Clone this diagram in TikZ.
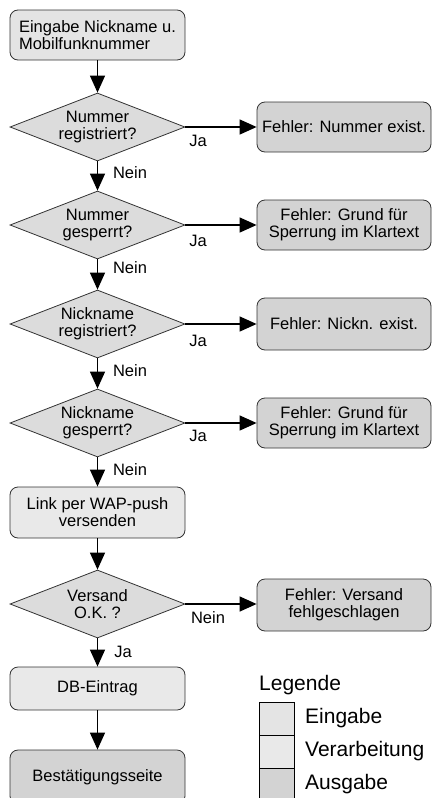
\documentclass[tikz,border=0pt]{standalone}
\usepackage{fontspec}
\setmainfont{Liberation Sans}
\usetikzlibrary{shapes.geometric,arrows.meta}

\definecolor{inputfill}{HTML}{E4E4E4}
\definecolor{procfill}{HTML}{E9E9E9}
\definecolor{outfill}{HTML}{D3D3D3}
\definecolor{decfill}{HTML}{DCDCDC}
\definecolor{edgegray}{HTML}{333333}

\newcommand\flowfont{\fontsize{16.5}{17}\selectfont}
\newcommand\legfont{\fontsize{21}{22}\selectfont}

\tikzset{
  shapebase/.style={draw=edgegray, line width=0.8pt, font=\flowfont,
    align=center, inner sep=0pt, text=black},
  leftbox/.style={shapebase, rounded corners=8pt, minimum width=175pt},
  inbox/.style={leftbox, fill=inputfill},
  procbox/.style={leftbox, fill=procfill},
  outbox/.style={shapebase, rounded corners=8pt, fill=outfill,
    minimum width=174pt, minimum height=50pt},
  decision/.style={shapebase, diamond, aspect=2.6, fill=decfill,
    minimum width=175pt, minimum height=68pt},
  flow/.style={line width=1.3pt, -{Triangle[length=17pt,width=15pt]}},
  edgelabel/.style={font=\flowfont, inner sep=0pt},
  legbox/.style={draw=black, line width=0.7pt, minimum width=35pt,
    minimum height=33pt, inner sep=0pt},
  legtext/.style={font=\legfont, anchor=west, inner sep=0pt}
}

\begin{document}
\begin{tikzpicture}[x=1pt, y=-1pt]
  \useasboundingbox (0,0) rectangle (435,798);
  \clip (0,0) rectangle (435,798);

  % main column
  \node[inbox, align=left, minimum height=50pt] (start) at (97.5,35)
    {Eingabe Nickname u.\\Mobilfunknummer};
  \node[decision] (q1) at (97.5,127) {Nummer\\registriert?};
  \node[decision] (q2) at (97.5,225) {Nummer\\gesperrt?};
  \node[decision] (q3) at (97.5,324) {Nickname\\registriert?};
  \node[decision] (q4) at (97.5,423) {Nickname\\gesperrt?};
  \node[procbox, minimum height=51pt] (send) at (97.5,512.5)
    {Link per WAP-push\\versenden};
  \node[decision] (q5) at (97.5,604) {Versand\\O.K. ?};
  \node[procbox, minimum height=43pt] (db) at (97.5,688.5) {DB-Eintrag};
  \node[shapebase, rounded corners=8pt, fill=outfill, minimum width=175pt,
    minimum height=54pt] (done) at (97.5,777) {Bestätigungsseite};

  % error outputs, each level with its decision
  \node[outbox] (e1) at (344,127) {Fehler: Nummer exist.};
  \node[outbox] (e2) at (344,225) {Fehler: Grund für\\Sperrung im Klartext};
  \node[outbox, minimum height=52pt] (e3) at (344,324) {Fehler: Nickn. exist.};
  \node[outbox] (e4) at (344,423) {Fehler: Grund für\\Sperrung im Klartext};
  \node[outbox, minimum height=52pt] (e5) at (344,605) {Fehler: Versand\\fehlgeschlagen};

  % connectors
  \draw[flow] (start) -- (q1);
  \draw[flow] (q1) -- (q2);
  \draw[flow] (q2) -- (q3);
  \draw[flow] (q3) -- (q4);
  \draw[flow] (q4) -- (send);
  \draw[flow] (send) -- (q5);
  \draw[flow] (q5) -- (db);
  \draw[flow] (db) -- (done);
  \draw[flow] (q1.east) -- (e1.west);
  \draw[flow] (q2.east) -- (e2.west);
  \draw[flow] (q3.east) -- (e3.west);
  \draw[flow] (q4.east) -- (e4.west);
  \draw[flow] (q5.east) -- (q5.east -| e5.west);

  % branch labels
  \node[edgelabel] (j1) at (198,141) {Ja};
  \node[edgelabel] (j2) at (198,241) {Ja};
  \node[edgelabel] (j3) at (198,341) {Ja};
  \node[edgelabel] (j4) at (198,436) {Ja};
  \node[edgelabel] (n5) at (208,618) {Nein};
  \node[edgelabel] (n1) at (130,173) {Nein};
  \node[edgelabel] (n2) at (130,268) {Nein};
  \node[edgelabel] (n3) at (130,371) {Nein};
  \node[edgelabel] (n4) at (130,470) {Nein};
  \node[edgelabel] (j5) at (123,652) {Ja};

  % legend
  \node[legtext] (legtitle) at (259,685) {Legende};
  \node[legbox, fill=inputfill] (lin) at (276.5,718.5) {};
  \node[legbox, fill=procfill] (lproc) at (276.5,751.5) {};
  \node[legbox, fill=outfill] (lout) at (276.5,784.5) {};
  \node[legtext] (tin) at (305,718.5) {Eingabe};
  \node[legtext] (tproc) at (305,751.5) {Verarbeitung};
  \node[legtext] (tout) at (305,784.5) {Ausgabe};
\end{tikzpicture}
\end{document}
